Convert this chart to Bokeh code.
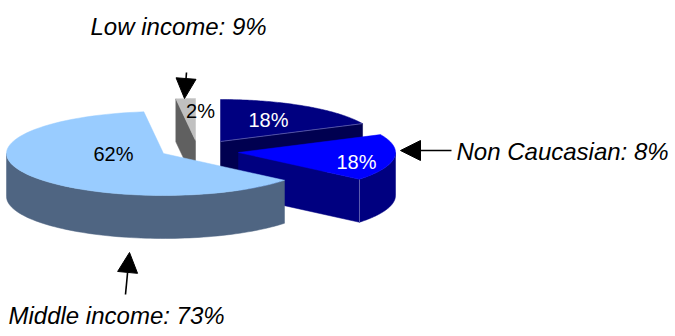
import numpy as np
from bokeh.plotting import figure
from bokeh.models import Arrow, NormalHead
from bokeh.core.properties import value
from bokeh.embed import file_html
from bokeh.resources import INLINE

# data
slice_names = ["Upper group", "Non Caucasian", "Middle income", "Low income"]
shares = [18, 18, 62, 2]
share_labels = ["18%", "18%", "62%", "2%"]
callouts = ["Low income: 9%", "Non Caucasian: 8%", "Middle income: 73%"]

# layout (screen pixels)
apex_x = [220, 238, 163, 195]
apex_y = [141, 152, 153, 140]
RX, RY, DEPTH = 157, 42, 43
top_colors = ["#000080", "#0000FF", "#99CCFF", "#C0C0C0"]
wall_colors = ["#000080", "#000080", "#4F6582", "#606060"]
cut_colors = ["#000050", "#000080", "#4F6582", "#606060"]
label_xy = [(268, 119), (356, 161), (113, 153), (200, 110)]
label_colors = ["white", "white", "black", "black"]
callout_xy = [(90, 26), (456, 151), (8, 315)]
arrows_xy = [(186, 72, 184, 98), (451, 150, 400, 150), (125, 294, 129, 252)]

p = figure(width=675, height=336, x_range=(0, 675), y_range=(336, 0),
           output_backend="svg", toolbar_location=None, min_border=0)
p.axis.visible = False
p.grid.visible = False
p.outline_line_color = None
p.background_fill_color = "white"

# angles walk clockwise from 12 o'clock, from the shares
edges = 90 - np.cumsum([0] + shares) * 3.6


def rim(i, a, b, n=80):
    t = np.radians(np.linspace(a, b, n))
    return apex_x[i] + RX * np.cos(t), apex_y[i] - RY * np.sin(t)


def patch(xs, ys, color):
    p.patch(list(xs), list(ys), fill_color=color, line_color=color, line_width=0.5)


def cut_face(i, ang):
    ex, ey = rim(i, ang, ang, 1)
    patch([apex_x[i], ex[0], ex[0], apex_x[i]],
          [apex_y[i], ey[0], ey[0] + DEPTH, apex_y[i] + DEPTH], cut_colors[i])


for i in [3, 0, 1, 2]:
    a, b = edges[i], edges[i + 1]
    if i == 0:
        cut_face(i, b)
    if i == 3:
        cut_face(i, a)
    if i == 1:
        cut_face(i, b)
        wx, wy = rim(i, 0, b)
        patch(np.r_[wx, wx[::-1]], np.r_[wy, wy[::-1] + DEPTH], wall_colors[i])
        ex, ey = rim(i, b, b, 1)
        p.line([ex[0], ex[0]], [ey[0], ey[0] + DEPTH], line_color="#8080C0", line_width=0.7)
    if i == 2:
        wx, wy = rim(i, a, -180)
        patch(np.r_[wx, wx[::-1]], np.r_[wy, wy[::-1] + DEPTH], wall_colors[i])
    # top face
    tx, ty = rim(i, a, b)
    patch(np.r_[apex_x[i], tx], np.r_[apex_y[i], ty], top_colors[i])
    if i == 0:
        ex, ey = rim(i, b, b, 1)
        p.line([apex_x[i], ex[0]], [apex_y[i], ey[0]], line_color="#8080C0", line_width=0.6)

for txt, (x, y), c in zip(share_labels, label_xy, label_colors):
    p.text([x], [y], text=[txt], text_color=c, text_align="center", text_baseline="alphabetic",
           text_font=value("Liberation Sans"), text_font_size="20px")

for txt, (x, y) in zip(callouts, callout_xy):
    p.text([x], [y], text=[txt], text_color="black", text_align="left", text_baseline="alphabetic",
           text_font=value("Liberation Sans"), text_font_style="italic", text_font_size="24px")

for x0, y0, x1, y1 in arrows_xy:
    p.add_layout(Arrow(end=NormalHead(size=20, fill_color="black", line_color="black"),
                       x_start=x0, y_start=y0, x_end=x1, y_end=y1,
                       line_color="black", line_width=1.6))

open("out.html", "w").write(file_html(p, INLINE))
